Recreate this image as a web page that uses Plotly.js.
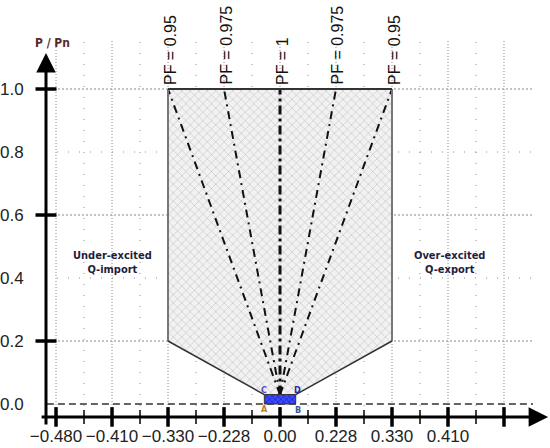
<!DOCTYPE html>
<html>
<head>
<meta charset="utf-8">
<script src="https://cdn.plot.ly/plotly-3.0.1.min.js"></script>
<style>
  body { margin: 0; background: #fff; }
  #chart { width: 550px; height: 448px; }
</style>
</head>
<body>
<div id="chart"></div>
<script>
// ---- data ----
// x positions are the evenly spaced tick slots of the original drawing
var qTickPos = [-4, -3, -2, -1, 0, 1, 2, 3];
var qTickText = ['\u22120.480', '\u22120.410', '\u22120.330', '\u22120.228', '0.00', '0.228', '0.330', '0.410'];
var qMajor = [-4, -3, -2, -1, 0, 1, 2, 3, 4];
var qMinor = [-3.5, -2.5, -1.5, -0.5, 0.5, 1.5, 2.5, 3.5];
var pTicks = [0, 0.2, 0.4, 0.6, 0.8, 1.0];
var pTickText = ['0.0', '0.2', '0.4', '0.6', '0.8', '1.0'];
var pMajor = [0.2, 0.6, 1.0];
var pMinor = [0.4, 0.8];

// operating region (P-Q capability polygon)
var regionQ = [-2, 2, 2, 0.28, -0.28, -2, -2];
var regionP = [1, 1, 0.2, 0.03, 0.03, 0.2, 1];

// small box ABCD at the origin
var boxQ = [-0.28, 0.28, 0.28, -0.28, -0.28];
var boxP = [0, 0, 0.03, 0.03, 0];
var boxLabels = ['A', 'B', 'C', 'D'];
var boxLabelQ = [-0.27, 0.33, -0.29, 0.31];
var boxLabelP = [-0.017, -0.019, 0.045, 0.045];
var boxLabelColor = ['#c07a30', '#3a5a9a', '#5a4ac0', '#2a2aa0'];

// power factor lines
var pfLabels = ['PF = 0.95', 'PF = 0.975', 'PF = 1', 'PF = 0.975', 'PF = 0.95'];
var pfQ = [-2, -1, 0, 1, 2];
var pfOrigin = [0, 0.03];

// axes ranges (in the same slot units)
var xRange = [-4.179, 4.518];
var yRange = [-0.0444, 1.1556];
var xAxisP = -0.041;

var narrow = 'Liberation Sans Narrow, DejaVu Sans Condensed, Arial Narrow, sans-serif';
var sans = 'Liberation Sans, Arial, sans-serif';

var data = [];

// region fill
data.push({
    x: regionQ, y: regionP,
    type: 'scatter', mode: 'none',
    fill: 'toself',
    fillcolor: '#f1f1f1',
    fillpattern: { shape: 'x', size: 6, solidity: 0.15, fgcolor: '#b5b5b5', bgcolor: '#f2f2f2' },
    hoverinfo: 'skip', showlegend: false
});

// PF lines
for (var i = 0; i < pfQ.length; i++) {
    data.push({
        x: [pfOrigin[0], pfQ[i]], y: [pfOrigin[1], 1],
        type: 'scatter', mode: 'lines',
        line: { color: '#111', width: pfQ[i] == 0 ? 3 : 2, dash: pfQ[i] == 0 ? '9px,4px,3px,4px' : '8px,5px,2px,5px' },
        hoverinfo: 'skip', showlegend: false
    });
}

// region outline: sides, diagonals, top
data.push({
    x: [-2, -2, null, 2, 2], y: [1, 0.2, null, 1, 0.2],
    type: 'scatter', mode: 'lines',
    line: { color: '#777', width: 2 },
    hoverinfo: 'skip', showlegend: false
});
data.push({
    x: [-2, -0.28, null, 0.28, 2], y: [0.2, 0.03, null, 0.03, 0.2],
    type: 'scatter', mode: 'lines',
    line: { color: '#333', width: 1.5 },
    hoverinfo: 'skip', showlegend: false
});
data.push({
    x: [-2, 2], y: [1, 1],
    type: 'scatter', mode: 'lines',
    line: { color: '#333', width: 2 },
    hoverinfo: 'skip', showlegend: false
});

// box ABCD
data.push({
    x: boxQ, y: boxP,
    type: 'scatter', mode: 'lines',
    fill: 'toself',
    fillcolor: '#3344ff',
    fillpattern: { shape: 'x', size: 4, solidity: 0.25, fgcolor: '#1a1a9a', bgcolor: '#3a48ff' },
    line: { color: '#333', width: 1 },
    hoverinfo: 'skip', showlegend: false
});

// x axis tick marks
data.push({
    x: qMajor, y: qMajor.map(function () { return xAxisP; }),
    type: 'scatter', mode: 'markers', cliponaxis: false,
    marker: { symbol: 'line-ns', size: 14, line: { color: '#000', width: 3.5 } },
    hoverinfo: 'skip', showlegend: false
});
data.push({
    x: qMinor, y: qMinor.map(function () { return xAxisP; }),
    type: 'scatter', mode: 'markers', cliponaxis: false,
    marker: { symbol: 'line-ns', size: 10, line: { color: '#000', width: 1.5 } },
    hoverinfo: 'skip', showlegend: false
});
// y axis tick marks
data.push({
    x: pMajor.map(function () { return xRange[0]; }), y: pMajor,
    type: 'scatter', mode: 'markers', cliponaxis: false,
    marker: { symbol: 'line-ew', size: 15, line: { color: '#000', width: 3.5 } },
    hoverinfo: 'skip', showlegend: false
});
data.push({
    x: pMinor.map(function () { return xRange[0] - 0.06; }), y: pMinor,
    type: 'scatter', mode: 'markers', cliponaxis: false,
    marker: { symbol: 'line-ew', size: 7, line: { color: '#000', width: 1.5 } },
    hoverinfo: 'skip', showlegend: false
});

// grid lines as shapes
var shapes = [];
qMajor.forEach(function (q) {
    shapes.push({ type: 'line', layer: 'below', xref: 'x', yref: 'y', x0: q, x1: q, y0: xAxisP, y1: yRange[1],
        line: { color: '#888', width: 1, dash: '1px,2px' } });
});
qMinor.forEach(function (q) {
    shapes.push({ type: 'line', layer: 'below', xref: 'x', yref: 'y', x0: q, x1: q, y0: xAxisP, y1: yRange[1],
        line: { color: '#888', width: 1, dash: '1px,10px' } });
});
pMajor.forEach(function (p) {
    shapes.push({ type: 'line', layer: 'below', xref: 'x', yref: 'y', x0: xRange[0], x1: xRange[1], y0: p, y1: p,
        line: { color: '#888', width: 1, dash: '2px,2px' } });
});
pMinor.forEach(function (p) {
    shapes.push({ type: 'line', layer: 'below', xref: 'x', yref: 'y', x0: xRange[0], x1: xRange[1], y0: p, y1: p,
        line: { color: '#888', width: 1, dash: '1px,10px' } });
});
// dashed P = 0 line
shapes.push({ type: 'line', layer: 'below', xref: 'x', yref: 'y', x0: xRange[0] - 0.18, x1: xRange[1], y0: 0, y1: 0,
    line: { color: '#333', width: 1.3, dash: '7px,4px' } });

var annotations = [];
// axis arrows
annotations.push({ x: 1.031, y: xAxisP, xref: 'paper', yref: 'y', ax: -508, ay: 0,
    text: '', showarrow: true, arrowhead: 2, arrowsize: 1.3, arrowwidth: 3, arrowcolor: '#000' });
annotations.push({ x: xRange[0], y: 1.114, ax: xRange[0], ay: -0.07, xref: 'x', yref: 'y', axref: 'x', ayref: 'y',
    text: '', showarrow: true, arrowhead: 2, arrowsize: 1.3, arrowwidth: 3, arrowcolor: '#000' });
// axis names
annotations.push({ x: -4.07, y: 1.146, xref: 'x', yref: 'y', text: '<b>P / Pn</b>', showarrow: false,
    font: { family: narrow, size: 12, color: '#5a2a2a' } });
annotations.push({ x: 4.4, y: -0.088, xref: 'x', yref: 'y', text: '<b>Q/Pn</b>', showarrow: false,
    font: { family: narrow, size: 11, color: '#2e3a6a' } });
// region names
annotations.push({ x: -3, y: 0.45, xref: 'x', yref: 'y', text: '<b>Under-excited<br>Q-import</b>', showarrow: false,
    font: { family: narrow, size: 11, color: '#1e1e3c' } });
annotations.push({ x: 3.03, y: 0.45, xref: 'x', yref: 'y', text: '<b>Over-excited<br>Q-export</b>', showarrow: false,
    font: { family: narrow, size: 11, color: '#1e1e3c' } });
// PF labels
for (var k = 0; k < pfQ.length; k++) {
    annotations.push({ x: pfQ[k], y: 1, xref: 'x', yref: 'y', text: pfLabels[k], showarrow: false,
        textangle: -90, xanchor: 'center', yanchor: 'bottom', yshift: 2, xshift: 2,
        font: { family: sans, size: 16, color: '#111' } });
}
// box corner letters
for (var b = 0; b < boxLabels.length; b++) {
    annotations.push({ x: boxLabelQ[b], y: boxLabelP[b], xref: 'x', yref: 'y', text: '<b>' + boxLabels[b] + '</b>',
        showarrow: false, font: { family: narrow, size: 9, color: boxLabelColor[b] } });
}

var layout = {
    width: 550, height: 448,
    margin: { l: 46, r: 17, t: 40, b: 30 },
    paper_bgcolor: '#fff', plot_bgcolor: '#fff',
    showlegend: false,
    xaxis: {
        range: xRange, showgrid: false, zeroline: false, showline: false,
        tickmode: 'array', tickvals: qTickPos, ticktext: qTickText,
        ticks: 'outside', ticklen: 3, tickcolor: 'rgba(0,0,0,0)',
        tickfont: { family: sans, size: 17, color: '#222' }
    },
    yaxis: {
        range: yRange, showgrid: false, zeroline: false, showline: false,
        tickmode: 'array', tickvals: pTicks, ticktext: pTickText,
        ticks: 'outside', ticklen: 18, tickcolor: 'rgba(0,0,0,0)',
        tickfont: { family: sans, size: 17, color: '#222' }
    },
    shapes: shapes,
    annotations: annotations
};

Plotly.newPlot('chart', data, layout, { displayModeBar: false, staticPlot: true });
</script>
</body>
</html>
